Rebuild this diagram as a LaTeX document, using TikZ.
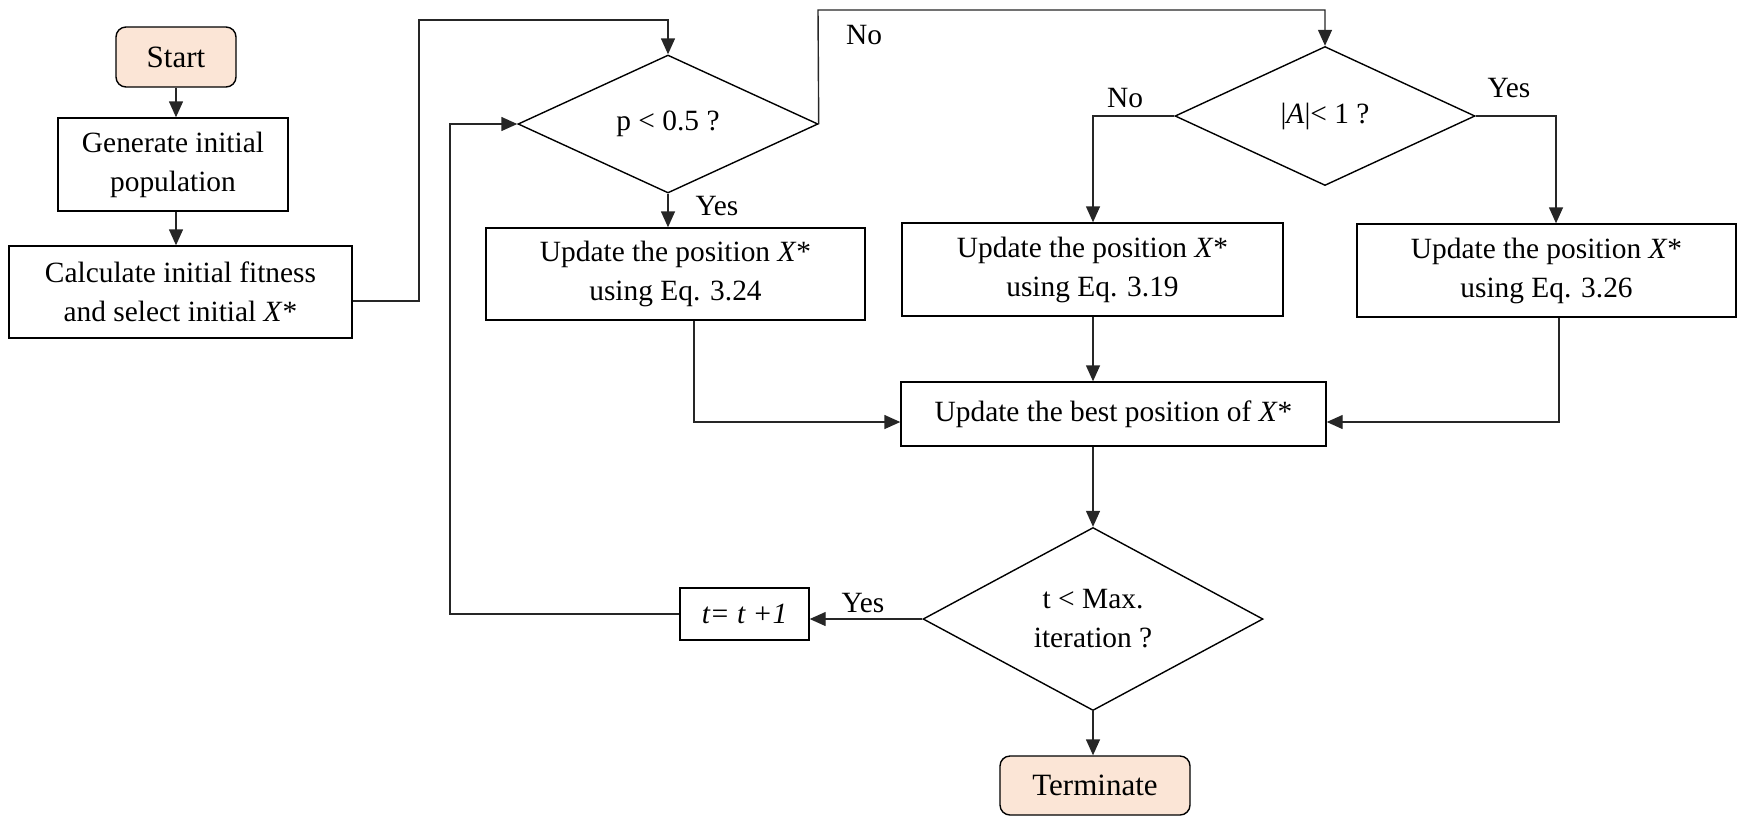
\documentclass[tikz,border=0pt]{standalone}
\usepackage{fontspec}
\setmainfont{Liberation Serif}
\usetikzlibrary{shapes.geometric,arrows.meta}
\definecolor{peach}{HTML}{FBE5D6}
\definecolor{lncol}{HTML}{262626}
\begin{document}
\begin{tikzpicture}[x=0.5pt,y=-0.5pt,
  txt/.style={font=\fontsize{14.7}{19.5}\selectfont},
  proc/.style={txt, draw, line width=0.7pt, align=center, inner sep=0pt},
  term/.style={draw, line width=0.7pt, fill=peach, rounded corners=5pt, inner sep=0pt,
    font=\fontsize{15.5}{19.5}\selectfont},
  dec/.style={txt, draw, line width=0.7pt, diamond, align=center, inner sep=0pt},
  conn/.style={line width=0.7pt, draw=lncol},
  arr/.style={conn, -{Triangle[length=8pt,width=7pt]}},
  lbl/.style={txt, inner sep=0pt}
]
\useasboundingbox (0,0) rectangle (1738,816);

\node[term, minimum width=60pt, minimum height=30pt] (start) at (176,57) {Start};
\node[proc, minimum width=115pt, minimum height=46.5pt] (gen) at (173,164.5) {Generate initial\\population};
\node[proc, minimum width=171.5pt, minimum height=46pt] (calc) at (180.5,292) {Calculate initial fitness\\and select initial \textit{X}*};

\node[dec, minimum width=150pt, minimum height=69pt] (pd) at (668,124) {p < 0.5 ?};
\node[proc, minimum width=189.5pt, minimum height=46pt] (b324) at (675.5,274) {Update the position \textit{X}*\\using Eq. 3.24};

\node[dec, minimum width=150pt, minimum height=69.5pt] (ad) at (1325,116) {\textbar\textit{A}\textbar< 1 ?};
\node[proc, minimum width=190.5pt, minimum height=46.5pt] (b319) at (1092.5,269.5) {Update the position \textit{X}*\\using Eq. 3.19};
\node[proc, minimum width=189.5pt, minimum height=46.5pt] (b326) at (1546.5,270.5) {Update the position \textit{X}*\\using Eq. 3.26};

\node[proc, minimum width=212.5pt, minimum height=32pt] (best) at (1113.5,414) {Update the best position of \textit{X}*};
\node[dec, minimum width=170pt, minimum height=91.5pt] (td) at (1093,619) {t < Max.\\iteration ?};
\node[proc, minimum width=64.5pt, minimum height=26pt] (inc) at (744.5,614) {\textit{t= t +1}};
\node[term, minimum width=95pt, minimum height=29.5pt] (term) at (1095,785.5) {Terminate};

\coordinate (c1) at (419,301);
\coordinate (c2) at (419,20);
\coordinate (c3) at (818,10);
\coordinate (c4) at (1093,116);
\coordinate (c5) at (1556,116);
\coordinate (c6) at (694,422);
\coordinate (c7) at (1559,422);
\coordinate (c8) at (450,614);
\coordinate (c9) at (450,124);

\draw[arr] (start.south) -- (start.south |- gen.north);
\draw[arr] (start.south |- gen.south) -- (start.south |- calc.north);
\draw[arr] (calc.east |- c1) -- (c1) -- (c2) -- (c2 -| pd.north) -- (pd.north);
\draw[arr] (pd.south) -- (pd.south |- b324.north);
\draw[arr] (pd.east) -- (c3) -- (c3 -| ad.north) -- (ad.north);
\draw[arr] (ad.west) -- (c4) -- (c4 |- b319.north);
\draw[arr] (ad.east) -- (c5) -- (c5 |- b326.north);
\draw[arr] (c6 |- b324.south) -- (c6) -- (c6 -| best.west);
\draw[arr] (c4 |- b319.south) -- (c4 |- best.north);
\draw[arr] (c7 |- b326.south) -- (c7) -- (c7 -| best.east);
\draw[arr] (c4 |- best.south) -- (td.north);
\draw[arr] (td.west) -- (td.west -| inc.east);
\draw[arr] (inc.west) -- (c8) -- (c9) -- (pd.west);
\draw[arr] (td.south) -- (td.south |- term.north);

\node[lbl] (l1) at (717,206) {Yes};
\node[lbl] (l2) at (864,35) {No};
\node[lbl] (l3) at (1125,98) {No};
\node[lbl] (l4) at (1509,88) {Yes};
\node[lbl] (l5) at (863,603) {Yes};
\end{tikzpicture}
\end{document}
